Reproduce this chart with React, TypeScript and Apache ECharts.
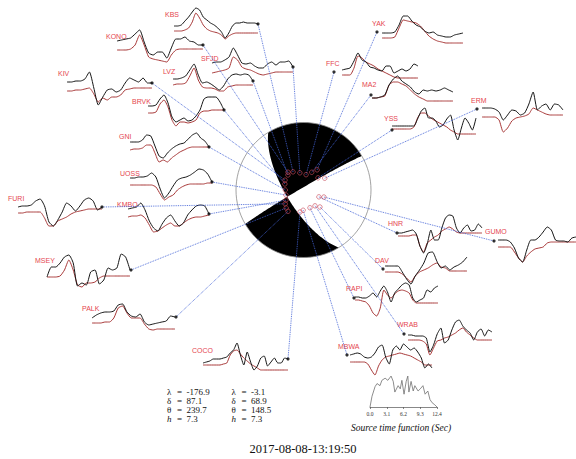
import { useEffect, useRef } from 'react';
import * as echarts from 'echarts';

// ---- focal mechanism (two nodal planes) ----
const planeA = { strike: 239.7, dip: 87.1, rake: -176.9, depth: 7.3 };
const planeB = { strike: 148.5, dip: 68.9, rake: -3.1, depth: 7.3 };

// ---- station names and projected positions on the focal sphere (azimuth deg, radius 0..1) ----
const stationNames = ['KBS', 'KONO', 'SFJD', 'LVZ', 'KIV', 'BRVK', 'GNI', 'UOSS', 'KMBO', 'FURI', 'MSEY', 'PALK',
  'COCO', 'MBWA', 'RAPI', 'WRAB', 'DAV', 'HNR', 'GUMO', 'ERM', 'YSS', 'MA2', 'FFC', 'YAK'];
const stationAz = [330, 319, 348, 314, 298, 288, 270, 254, 240, 233, 224, 216, 189, 181, 160, 144, 136, 114, 109, 61, 50, 25, 9.5, 34];
const stationTakeoff = [0.31, 0.35, 0.26, 0.32, 0.31, 0.29, 0.27, 0.27, 0.30, 0.34, 0.37, 0.39, 0.33, 0.30, 0.28, 0.29, 0.35, 0.25, 0.32, 0.36, 0.28, 0.29, 0.23, 0.36];

// ---- waveforms: observed (black) and synthetic (red) amplitudes ----
const KBS_obs = [0, 0, 1, 5, 9, 14, 18, 16, 9, 6, 3, 1, -2, -6, -12, -7, 0, 3, 3, 4, 3, 3, 3, 2];
const KBS_syn = [-5, -5, -5, -4, -2, 4, 13, 8, 1, -3, -5, -6, -7, -9, -13, -10, -8, -7, -7, -7, -7, -7, -7, -7];
const KONO_obs = [0, 1, 2, 3, 7, 11, -1, -12, -14, -11, -11, -17, -7, 2, 2, 4, 0, -1, -4, -4];
const KONO_syn = [-9, -9, -9, -8, -4, 6, -4, -16, -18, -19, -20, -21, -14, -9, -8, -8, -8, -8, -8, -8];
const SFJD_obs = [0, 1, 1, 3, 6, 15, 8, 0, -1, 0, -3, -5, -5, -1, 1, -2, 1, 1, 2, -4];
const SFJD_syn = [-10, -9, -8, -7, -5, 6, 3, -4, -6, -7, -9, -11, -12, -11, -10, -9, -9, -9, -9, -9];
const LVZ_obs = [0, 0, 1, 3, 9, 15, 4, -4, -3, -5, -8, -11, -7, 0, 4, 5, 4, 5, 4, -2];
const LVZ_syn = [-6, -5, -5, -4, 3, 11, -1, -8, -9, -9, -10, -12, -12, -8, -7, -6, -6, -6, -6, -6];
const KIV_obs = [0, 0, 1, 1, 3, 10, -6, -23, -15, -8, -7, -10, -8, -1, 4, 2, 0, 4, -1, -1];
const KIV_syn = [-9, -9, -8, -8, -7, -6, -12, -20, -16, -18, -15, -15, -13, -8, -7, -6, -6, -6, -6, -6];
const BRVK_obs = [0, 0, 1, 7, 11, 3, -11, -16, -14, -12, -15, -14, -10, -4, 7, 9, 9, 9, 4, -4];
const BRVK_syn = [-7, -7, -6, 2, 6, -1, -14, -20, -16, -16, -17, -16, -14, -7, -5, -5, -4, -4, -4, -4];
const GNI_obs = [0, 0, 0, 2, 7, 6, -4, -14, -16, -11, -7, -4, -2, -1, 3, 7, 9, 4, 1, -5];
const GNI_syn = [-8, -7, -7, -6, -3, -3, -11, -20, -18, -20, -16, -13, -10, -8, -6, -5, -5, -5, -5, -5];
const UOSS_obs = [0, 0, 1, 1, 2, 5, 1, -11, -20, -15, -8, -2, 0, 1, 3, 6, 9, 8, 4, -4];
const UOSS_syn = [-7, -7, -7, -7, -7, -7, -9, -16, -22, -19, -17, -12, -9, -7, -6, -6, -6, -6, -5, -5];
const KMBO_obs = [0, 1, 2, 6, -1, -12, -19, -22, -15, -9, -6, -12, -17, -14, -6, -1, 3, 4, 3, -5];
const KMBO_syn = [-8, -7, -7, -6, -9, -16, -23, -22, -19, -16, -14, -17, -17, -14, -11, -9, -8, -8, -7, -6];
const FURI_obs = [0, 1, 1, 2, 6, 8, 1, -15, -19, -13, -5, 4, 1, -4, 1, 7, 9, 6, -3, 0];
const FURI_syn = [-6, -6, -5, -5, -5, -5, -11, -19, -19, -14, -12, -10, -7, -5, -4, -3, -2, -2, -2, -2];
const MSEY_obs = [0, 10, 10, 14, 20, 22, 14, -9, -6, -8, 5, 7, -7, -3, 9, 7, 9, 23, 20, 7];
const MSEY_syn = [0, 0, 0, 1, 7, 17, 7, -8, -10, -6, -6, -5, -1, 1, 1, 1, 1, 1, 1, 1];
const PALK_obs = [0, 3, 5, 6, 6, 7, 13, 14, 6, 2, 1, 4, -4, -7, -6, -5, -4, -3, 2, 1];
const PALK_syn = [-5, -5, -5, -4, -4, 0, 10, 12, 5, 0, 0, 0, -6, -11, -12, -11, -11, -11, -11, -11];
const COCO_obs = [0, 1, 2, 4, 4, 4, 5, 6, 10, 13, 20, 8, -2, 11, 1, -7, -3, 5, 7, -3, 1, 5, 0, 0, 5, 4];
const COCO_syn = [-2, -2, -2, -2, -2, -2, -1, 0, 8, 12, 13, 9, 5, 2, -1, -3, -5, -7, -7, -7, -7, -7, -7, -7, -7, -7];
const MBWA_obs = [0, 1, 2, 1, -2, -3, -2, 2, 8, 10, -2, -9, 5, 9, 5, 11, 8, 5, 7, 3, -3, -13, -9, -13];
const MBWA_syn = [-7, -7, -7, -7, -7, -9, -15, -20, -11, -5, -2, -1, 0, 1, 2, 1, 0, -1, -3, -5, -7, -10, -10, -10];
const RAPI_obs = [0, 0, -1, -1, 1, 4, 0, 6, 11, 5, -5, 4, 8, 12, 14, 12, -1, -5, -3, -1, 7, 5, 9, 11];
const RAPI_syn = [-3, -3, -4, -5, -9, -16, -19, -11, 7, 2, -1, 3, 6, 7, 6, 4, -3, -6, -6, -6, -6, -6, -6, -6];
const WRAB_obs = [0, 0, -1, -1, -1, -3, -17, -10, 1, 7, -8, -5, 5, 13, 15, 9, 5, 2, -5, 3, 6, -1, 5, 3];
const WRAB_syn = [-5, -5, -5, -5, -6, -9, -20, -13, -6, -5, -3, -2, 0, 2, 5, 7, 3, 0, -3, -5, -5, -5, -5, -5];
const DAV_obs = [0, 0, 0, 0, -6, -13, -18, -10, -4, 3, 13, 14, 5, -2, 0, -4, -1, 1, 4, 9];
const DAV_syn = [-6, -6, -6, -6, -8, -12, -16, -10, -6, -4, -2, 1, 3, -1, -2, -5, -5, -5, -5, -5];
const HNR_obs = [0, 0, 1, 2, 3, -1, -13, -20, -11, 3, -7, -7, 5, 15, 18, 17, 5, 0, 5, 8, 2, 3, 9, 5];
const HNR_syn = [-3, -3, -3, -3, -2, -2, -13, -19, -10, -7, -4, -2, 2, 4, 6, 4, 1, 0, 0, 0, 0, 0, 0, 0];
const GUMO_obs = [0, 0, 0, -2, -8, -18, -22, -10, 0, 0, 3, 8, 13, 10, 0, -1, -1, -2, 2, 3];
const GUMO_syn = [-7, -7, -7, -7, -12, -18, -22, -16, -12, -9, -8, -7, -3, -2, -2, -2, -2, -2, -2, -2];
const ERM_obs = [0, 0, 0, -1, -4, -12, -7, -2, -3, -7, -5, 4, 16, -2, 2, 4, -2, 4, 3, -2];
const ERM_syn = [-9, -9, -9, -9, -12, -24, -20, -13, -10, -9, -8, -6, 0, -2, -4, -6, -7, -7, -7, -7];
const YSS_obs = [0, 0, 0, 0, 0, 0, 0, 7, 15, 18, 8, 8, 5, -1, 1, 7, 11, -4, -14, -2, 8, 3, -4, 8];
const YSS_syn = [-3, -3, -3, -3, -3, -3, -1, 8, 13, 13, 10, 7, 5, 3, 1, -1, -4, -6, -8, -8, -8, -8, -8, -8];
const MA2_obs = [0, 0, 1, 3, 13, 19, 22, 17, 14, 11, 6, 4, 8, 7, 8, 7, 8, 10, 8, 6];
const MA2_syn = [0, 0, 1, 2, 13, 16, 16, 14, 12, 8, 4, 1, -1, -3, -3, -3, -3, -3, -3, -3];
const FFC_obs = [0, 1, 2, 9, 17, 10, 8, 3, 2, 0, -1, 4, 4, -3, -1, 1, -1, 1, 6, 4];
const FFC_syn = [-5, -5, -5, 2, 14, 12, 8, 6, 4, 1, -1, -3, -5, -7, -8, -8, -8, -8, -8, -8];
const YAK_obs = [0, 0, 0, 1, 8, 17, 17, 12, 8, 6, 2, 0, 1, -2, -3, -4, -4, -2, -1, 0];
const YAK_syn = [-5, -5, -5, -4, 5, 13, 12, 11, 10, 7, 2, -3, -6, -8, -9, -10, -10, -10, -10, -10];

const observed = [KBS_obs, KONO_obs, SFJD_obs, LVZ_obs, KIV_obs, BRVK_obs, GNI_obs, UOSS_obs, KMBO_obs, FURI_obs, MSEY_obs, PALK_obs,
  COCO_obs, MBWA_obs, RAPI_obs, WRAB_obs, DAV_obs, HNR_obs, GUMO_obs, ERM_obs, YSS_obs, MA2_obs, FFC_obs, YAK_obs];
const synthetic = [KBS_syn, KONO_syn, SFJD_syn, LVZ_syn, KIV_syn, BRVK_syn, GNI_syn, UOSS_syn, KMBO_syn, FURI_syn, MSEY_syn, PALK_syn,
  COCO_syn, MBWA_syn, RAPI_syn, WRAB_syn, DAV_syn, HNR_syn, GUMO_syn, ERM_syn, YSS_syn, MA2_syn, FFC_syn, YAK_syn];

// ---- source time function ----
const stfTime = [0, 0.01, 0.37, 0.93, 1.3, 1.85, 2.2, 2.8, 3.3, 3.9, 4.3, 4.6, 5.2, 5.6, 5.9, 6.3, 6.7, 7.0, 7.2, 7.6, 8.0, 8.3, 8.9, 9.3, 9.8, 10.2, 10.7, 11.1, 11.5, 12.0, 12.4];
const stfAmp = [0, 0, 10, 19, 22, 20, 25, 27, 25, 29, 24, 14, 20, 17, 25, 12, 24, 29, 14, 24, 15, 20, 15, 17, 20, 12, 15, 7, 4, 2, 0];
const stfTicks = [0, 3.1, 6.2, 9.3, 12.4];
const eventTime = '2017-08-08-13:19:50';

// ---- layout (pixel placement of each station panel) ----
const panelLayout = [
  { lx: 165, ly: 14, x0: 174, x1: 258, y0: 26, dot: [258, 24] },
  { lx: 106, ly: 36, x0: 117, x1: 203, y0: 41, dot: [203, 45] },
  { lx: 201, ly: 58, x0: 212, x1: 293, y0: 63, dot: [293, 67] },
  { lx: 163, ly: 71, x0: 173, x1: 253, y0: 79, dot: [253, 81] },
  { lx: 58, ly: 73, x0: 67, x1: 152, y0: 82, dot: [152, 83] },
  { lx: 132, ly: 101, x0: 148, x1: 224, y0: 106, dot: [224, 110] },
  { lx: 119, ly: 136, x0: 130, x1: 209, y0: 142, dot: [209, 147] },
  { lx: 120, ly: 173, x0: 130, x1: 212, y0: 178, dot: [212, 182] },
  { lx: 117, ly: 204, x0: 128, x1: 209, y0: 209, dot: [209, 214] },
  { lx: 8, ly: 198, x0: 18, x1: 102, y0: 207, dot: [102, 207] },
  { lx: 35, ly: 260, x0: 47, x1: 130, y0: 277, dot: [131, 270] },
  { lx: 82, ly: 308, x0: 92, x1: 175, y0: 318, dot: [176, 317] },
  { lx: 192, ly: 350, x0: 203, x1: 288, y0: 363, dot: [288, 359] },
  { lx: 338, ly: 346, x0: 350, x1: 432, y0: 355, dot: [347, 355] },
  { lx: 346, ly: 288, x0: 355, x1: 438, y0: 297, dot: [354, 298] },
  { lx: 397, ly: 324, x0: 408, x1: 492, y0: 335, dot: [404, 334] },
  { lx: 375, ly: 260, x0: 385, x1: 467, y0: 266, dot: [383, 269] },
  { lx: 388, ly: 223, x0: 398, x1: 482, y0: 233, dot: [397, 233] },
  { lx: 485, ly: 231, x0: 498, x1: 576, y0: 240, dot: [494, 241] },
  { lx: 471, ly: 100, x0: 482, x1: 563, y0: 108, dot: [477, 109] },
  { lx: 384, ly: 118, x0: 392, x1: 476, y0: 126, dot: [392, 130] },
  { lx: 362, ly: 84, x0: 372, x1: 453, y0: 98, dot: [371, 95] },
  { lx: 326, ly: 63, x0: 342, x1: 418, y0: 70, dot: [334, 72] },
  { lx: 372, ly: 23, x0: 382, x1: 463, y0: 33, dot: [377, 32] },
];
const BALL = { cx: 303.5, cy: 190, r: 67.5 };

const D = Math.PI / 180;
type V3 = [number, number, number];
const cross = (a: V3, b: V3): V3 => [a[1] * b[2] - a[2] * b[1], a[2] * b[0] - a[0] * b[2], a[0] * b[1] - a[1] * b[0]];
const dotp = (a: V3, b: V3) => a[0] * b[0] + a[1] * b[1] + a[2] * b[2];

function planeVectors(strike: number, dip: number) {
  const p = strike * D, dd = (strike + 90) * D, dp = dip * D;
  const s: V3 = [Math.cos(p), Math.sin(p), 0];
  const d: V3 = [Math.cos(dp) * Math.cos(dd), Math.cos(dp) * Math.sin(dd), Math.sin(dp)];
  return { s, d };
}
function project(az: number, rr: number): number[] {
  return [BALL.cx + BALL.r * rr * Math.sin(az * D), BALL.cy - BALL.r * rr * Math.cos(az * D)];
}
function planeTrace(strike: number, dip: number, t0: number, t1: number, n = 60): number[][] {
  const { s, d } = planeVectors(strike, dip);
  const out: number[][] = [];
  for (let k = 0; k <= n; k++) {
    const t = (t0 + (t1 - t0) * k / n) * D;
    const v: V3 = [s[0] * Math.cos(t) + d[0] * Math.sin(t), s[1] * Math.cos(t) + d[1] * Math.sin(t), s[2] * Math.cos(t) + d[2] * Math.sin(t)];
    const inc = Math.acos(Math.max(-1, Math.min(1, v[2])));
    const rr = Math.SQRT2 * Math.sin(inc / 2);
    const h = Math.hypot(v[0], v[1]);
    out.push([BALL.cx + BALL.r * rr * (h > 1e-9 ? v[1] / h : 0), BALL.cy - BALL.r * rr * (h > 1e-9 ? v[0] / h : 0)]);
  }
  return out;
}
function arc(a0: number, a1: number, n = 60): number[][] {
  const out: number[][] = [];
  for (let k = 0; k <= n; k++) out.push(project(a0 + (a1 - a0) * k / n, 1));
  return out;
}
function beachballPolygons() {
  const A = planeVectors(planeA.strike, planeA.dip);
  const B = planeVectors(planeB.strike, planeB.dip);
  let bAxis = cross(cross(A.s, A.d), cross(B.s, B.d));
  if (bAxis[2] < 0) bAxis = [-bAxis[0], -bAxis[1], -bAxis[2]];
  const tA = Math.atan2(dotp(bAxis, A.d), dotp(bAxis, A.s)) / D;
  const tB = Math.atan2(dotp(bAxis, B.d), dotp(bAxis, B.s)) / D;
  const ne = [
    ...arc(planeB.strike + 180, planeA.strike + 180),
    ...planeTrace(planeA.strike, planeA.dip, 180, tA),
    ...planeTrace(planeB.strike, planeB.dip, tB, 180),
  ];
  const sw = [
    ...arc(planeB.strike, planeA.strike),
    ...planeTrace(planeA.strike, planeA.dip, 0, tA),
    ...planeTrace(planeB.strike, planeB.dip, tB, 0),
  ];
  return [ne, sw];
}

function traceData(values: number[], p: { x0: number; x1: number; y0: number }) {
  const step = (p.x1 - p.x0) / (values.length - 1);
  return values.map((v, i) => [p.x0 + i * step, p.y0 - v]);
}

export default function App() {
  const ref = useRef<HTMLDivElement>(null);
  useEffect(() => {
    if (!ref.current) return;
    const chart = echarts.init(ref.current, undefined, { renderer: 'svg' });
    const [ne, sw] = beachballPolygons();
    const ballPts = stationNames.map((_, i) => project(stationAz[i], stationTakeoff[i]));

    const series: any[] = [];
    series.push({
      type: 'custom',
      xAxisIndex: 0, yAxisIndex: 0,
      silent: true, z: 1,
      data: [[BALL.cx, BALL.cy]],
      encode: { x: 0, y: 1 },
      renderItem: (_p: any, api: any) => {
        const c = api.coord([BALL.cx, BALL.cy]);
        const r = api.size([BALL.r, 0])[0];
        const toPx = (pt: number[]) => api.coord(pt);
        return {
          type: 'group',
          children: [
            { type: 'circle', shape: { cx: c[0], cy: c[1], r }, style: { fill: '#fff' } },
            { type: 'polygon', shape: { points: ne.map(toPx) }, style: { fill: '#000' } },
            { type: 'polygon', shape: { points: sw.map(toPx) }, style: { fill: '#000' } },
            { type: 'circle', shape: { cx: c[0], cy: c[1], r }, style: { fill: 'none', stroke: '#8a8a8a', lineWidth: 0.8 } },
          ],
        };
      },
    });
    stationNames.forEach((name, i) => {
      const p = panelLayout[i];
      series.push({
        type: 'line', name: name + ' syn', xAxisIndex: 0, yAxisIndex: 0, silent: true, z: 2,
        data: traceData(synthetic[i], p), showSymbol: false, smooth: 0.2,
        lineStyle: { color: '#a83838', width: 1 },
      });
      series.push({
        type: 'line', name: name + ' obs', xAxisIndex: 0, yAxisIndex: 0, silent: true, z: 3,
        data: traceData(observed[i], p), showSymbol: false, smooth: 0.2,
        lineStyle: { color: '#161616', width: 1 },
      });
    });
    series.push({
      type: 'lines', coordinateSystem: 'cartesian2d', xAxisIndex: 0, yAxisIndex: 0, silent: true, z: 4,
      data: stationNames.map((_, i) => ({ coords: [ballPts[i], panelLayout[i].dot] })),
      lineStyle: { color: '#4262d6', width: 0.9, type: 'dotted', opacity: 1, curveness: 0 },
    });
    series.push({
      type: 'scatter', xAxisIndex: 0, yAxisIndex: 0, silent: true, z: 5,
      data: panelLayout.map((p) => p.dot), symbolSize: 3.2,
      itemStyle: { color: '#000' },
    });
    series.push({
      type: 'scatter', xAxisIndex: 0, yAxisIndex: 0, silent: true, z: 6,
      data: ballPts, symbolSize: 4.5,
      itemStyle: { color: 'rgba(0,0,0,0)', borderColor: '#c84a5c', borderWidth: 0.8 },
    });
    series.push({
      type: 'line', xAxisIndex: 1, yAxisIndex: 1, silent: true,
      data: stfTime.map((t, i) => [t, stfAmp[i]]), showSymbol: false,
      lineStyle: { color: '#707070', width: 0.8 },
    });

    const graphic: any[] = [];
    stationNames.forEach((name, i) => {
      graphic.push({
        type: 'text', x: panelLayout[i].lx, y: panelLayout[i].ly, silent: true,
        style: { text: name, fill: '#e5464f', fontSize: 7, fontFamily: '"Liberation Sans", Arial, sans-serif', verticalAlign: 'middle', align: 'left' },
      });
    });
    const rows = [
      { sym: 'λ', italic: false, a: planeA.rake.toFixed(1), b: planeB.rake.toFixed(1) },
      { sym: 'δ', italic: false, a: planeA.dip.toFixed(1), b: planeB.dip.toFixed(1) },
      { sym: 'θ', italic: false, a: planeA.strike.toFixed(1), b: planeB.strike.toFixed(1) },
      { sym: 'h', italic: true, a: planeA.depth.toFixed(1), b: planeB.depth.toFixed(1) },
    ];
    const font = '"Liberation Serif", "Times New Roman", serif';
    rows.forEach((r, k) => {
      const y = 391.5 + k * 9.3;
      [[167, r.a], [231.5, r.b]].forEach(([x, val]) => {
        const xs = x as number;
        graphic.push({ type: 'text', x: xs, y, silent: true, style: { text: r.sym, fontSize: 9, fontStyle: r.italic ? 'italic' : 'normal', fontFamily: font, fill: '#111', verticalAlign: 'middle' } });
        graphic.push({ type: 'text', x: xs + 10, y, silent: true, style: { text: '=', fontSize: 9, fontFamily: font, fill: '#111', verticalAlign: 'middle' } });
        graphic.push({ type: 'text', x: xs + 19.5, y, silent: true, style: { text: val as string, fontSize: 9, fontFamily: font, fill: '#111', verticalAlign: 'middle' } });
      });
    });
    graphic.push({
      type: 'text', x: 401, y: 428, silent: true,
      style: { text: 'Source time function (Sec)', fontSize: 9.5, fontStyle: 'italic', fontFamily: font, fill: '#111', align: 'center', verticalAlign: 'middle' },
    });
    graphic.push({
      type: 'text', x: 303, y: 449, silent: true,
      style: { text: eventTime, fontSize: 12.5, fontFamily: font, fill: '#111', align: 'center', verticalAlign: 'middle' },
    });

    chart.setOption({
      animation: false,
      backgroundColor: '#fff',
      grid: [
        { left: 0, top: 0, width: 576, height: 459 },
        { left: 370, top: 375, width: 67, height: 32 },
      ],
      xAxis: [
        { gridIndex: 0, type: 'value', min: 0, max: 576, show: false },
        {
          gridIndex: 1, type: 'value', min: 0, max: 12.4, interval: 3.1,
          axisLine: { show: true, lineStyle: { color: '#555', width: 0.7 } },
          axisTick: { show: true, length: 2, lineStyle: { color: '#555', width: 0.7 } },
          axisLabel: {
            fontSize: 5.5, fontFamily: font, color: '#333', margin: 4,
            formatter: (v: number) => { const m = stfTicks.find((t) => Math.abs(t - v) < 1e-6); return (m ?? v).toFixed(1); },
          },
          splitLine: { show: false },
        },
      ],
      yAxis: [
        { gridIndex: 0, type: 'value', min: 0, max: 459, inverse: true, show: false },
        { gridIndex: 1, type: 'value', min: 0, max: 30, show: false },
      ],
      series,
      graphic,
    });
    return () => chart.dispose();
  }, []);
  return <div ref={ref} style={{ position: 'absolute', left: 0, top: 0, width: 576, height: 459 }} />;
}
